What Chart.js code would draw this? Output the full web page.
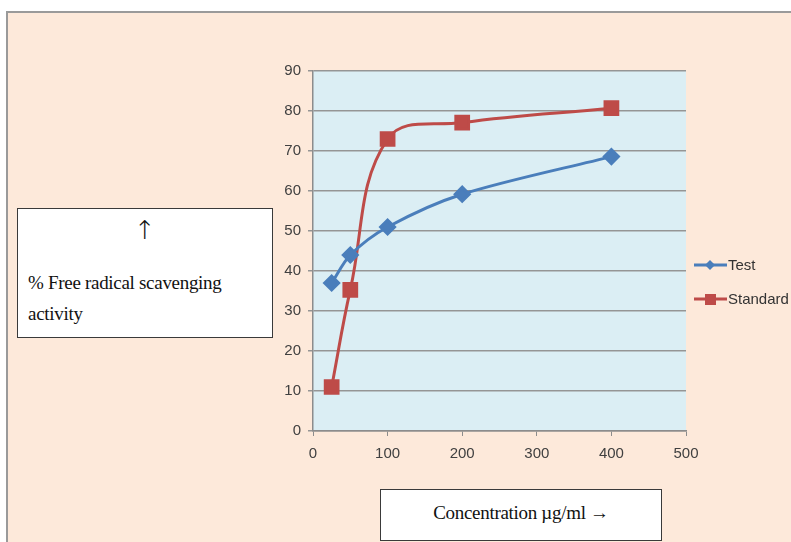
<!DOCTYPE html>
<html>
<head>
<meta charset="utf-8">
<script src="https://cdn.jsdelivr.net/npm/chart.js@4"></script>
<style>
  html, body { margin: 0; padding: 0; background: #ffffff; }
  #wrap { position: relative; width: 791px; height: 542px; overflow: hidden; }
  #frame {
    position: absolute; left: 6px; top: 11px; width: 800px; height: 560px;
    background: #fde9da; border-left: 2px solid #9a9a9a; border-top: 2px solid #9a9a9a;
    box-sizing: border-box;
  }
  #chart { position: absolute; left: 0; top: 0; }
  .box {
    position: absolute; background: #ffffff; border: 1px solid #3a3a3a;
    font-family: "Liberation Serif", "DejaVu Serif", serif; color: #111;
    box-sizing: border-box;
  }
  #ybox { left: 17px; top: 208px; width: 256px; height: 130px; font-size: 19px; }
  #ybox .arrow { position: absolute; left: 0; width: 100%; top: 6px; text-align: center; font-size: 26px; font-family: "DejaVu Sans", sans-serif; font-weight: 300; }
  #ybox .txt { position: absolute; left: 10px; top: 58px; line-height: 31px; letter-spacing: -0.3px; }
  #xbox { left: 380px; top: 489px; width: 282px; height: 52px; font-size: 19px; text-align: center; line-height: 46px; letter-spacing: -0.3px; }
</style>
</head>
<body>
<div id="wrap">
  <div id="frame"></div>
  <canvas id="chart" width="791" height="542"></canvas>
  <div class="box" id="ybox"><div class="arrow">↑</div><div class="txt">% Free radical scavenging<br>activity</div></div>
  <div class="box" id="xbox">Concentration µg/ml →</div>
</div>
<script>
// Data
const concentrations = [25, 50, 100, 200, 400];
const testValues = [37, 44, 51, 59.2, 68.6];
const standardValues = [11, 35.3, 73, 77.1, 80.7];
const seriesNames = ['Test', 'Standard'];
const xTicks = [0, 100, 200, 300, 400, 500];
const yTicks = [0, 10, 20, 30, 40, 50, 60, 70, 80, 90];

const tickFont = { size: 15, family: '"Liberation Sans", "DejaVu Sans", sans-serif' };

function toPoints(xs, ys) {
    return xs.map((x, i) => ({ x: x, y: ys[i] }));
}

// Light blue plot area
const plotBackground = {
    id: 'plotBackground',
    beforeDraw(chart) {
        const a = chart.chartArea;
        const ctx = chart.ctx;
        ctx.save();
        ctx.fillStyle = '#dbeef4';
        ctx.fillRect(a.left, a.top, a.right - a.left, a.bottom - a.top);
        ctx.restore();
    }
};

// Excel-like legend to the right of the plot
const sideLegend = {
    id: 'sideLegend',
    afterDraw(chart) {
        const ctx = chart.ctx;
        const x0 = 694;
        const rows = [265, 299];
        ctx.save();
        chart.data.datasets.forEach((ds, i) => {
            const y = rows[i];
            ctx.strokeStyle = ds.borderColor;
            ctx.lineWidth = 3;
            ctx.beginPath();
            ctx.moveTo(x0, y);
            ctx.lineTo(x0 + 33, y);
            ctx.stroke();
            ctx.fillStyle = ds.backgroundColor;
            if (ds.pointStyle === 'rectRot') {
                ctx.beginPath();
                ctx.moveTo(x0 + 16, y - 5);
                ctx.lineTo(x0 + 21, y);
                ctx.lineTo(x0 + 16, y + 5);
                ctx.lineTo(x0 + 11, y);
                ctx.closePath();
                ctx.fill();
            } else {
                ctx.fillRect(x0 + 11, y - 5, 11, 11);
            }
            ctx.fillStyle = '#333333';
            ctx.font = '15px "Liberation Sans", "DejaVu Sans", sans-serif';
            ctx.textBaseline = 'middle';
            ctx.fillText(ds.label, x0 + 34, y + 1);
        });
        ctx.restore();
    }
};

new Chart(document.getElementById('chart'), {
    type: 'line',
    data: {
        datasets: [{
            label: seriesNames[0],
            data: toPoints(concentrations, testValues),
            borderColor: '#4a7ebb',
            backgroundColor: '#4a7ebb',
            borderWidth: 3,
            pointStyle: 'rectRot',
            pointRadius: 7,
            pointHoverRadius: 7,
            tension: 0.3
        }, {
            label: seriesNames[1],
            data: toPoints(concentrations, standardValues),
            borderColor: '#be4b48',
            backgroundColor: '#be4b48',
            borderWidth: 3,
            pointStyle: 'rect',
            pointRadius: 9,
            pointHoverRadius: 9,
            tension: 0.4
        }]
    },
    options: {
        responsive: false,
        animation: false,
        layout: { padding: { left: 0, top: 71, right: 105, bottom: 81 } },
        plugins: { legend: { display: false }, tooltip: { enabled: false } },
        scales: {
            x: {
                type: 'linear',
                min: 0,
                max: 500,
                afterBuildTicks: (scale) => { scale.ticks = xTicks.map(v => ({ value: v })); },
                afterFit: (scale) => { scale.height = 30; },
                grid: { drawOnChartArea: false, color: '#8c8c8c', tickLength: 5 },
                border: { color: '#8c8c8c', width: 1.5 },
                ticks: { color: '#404040', font: tickFont, padding: 9 }
            },
            y: {
                min: 0,
                max: 90,
                afterBuildTicks: (scale) => { scale.ticks = yTicks.map(v => ({ value: v })); },
                afterFit: (scale) => { scale.width = 313; },
                grid: { color: '#959595', tickLength: 5, lineWidth: 1.5 },
                border: { color: '#8c8c8c', width: 1.5 },
                ticks: { color: '#404040', font: tickFont, padding: 7 }
            }
        }
    },
    plugins: [plotBackground, sideLegend]
});
</script>
</body>
</html>
